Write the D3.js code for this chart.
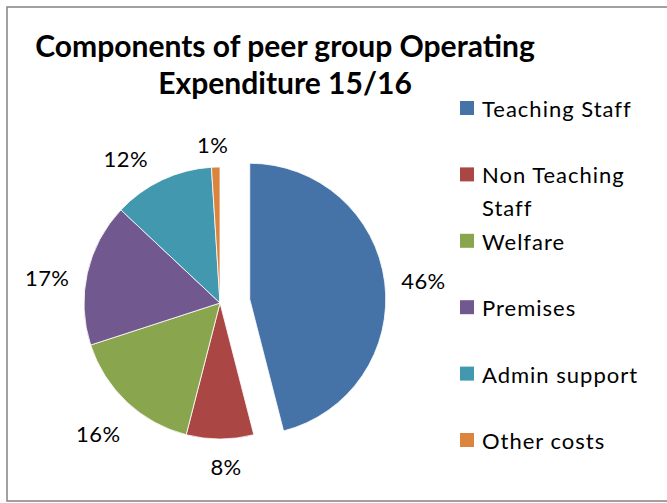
<!DOCTYPE html>
<html><head><meta charset="utf-8">
<script src="https://cdn.jsdelivr.net/npm/d3@7"></script>
<style>body{margin:0;background:#fff}svg{display:block}</style>
</head><body>
<svg id="c" width="667" height="503"></svg>
<script>
const categories = ["Teaching Staff","Non Teaching Staff","Welfare","Premises","Admin support","Other costs"];
const values = [46, 8, 16, 17, 12, 1];
const colors = ["#4572A7","#AA4643","#89A54E","#71588F","#4198AF","#DB843D"];
const titleLines = ["Components of peer group Operating","Expenditure 15/16"];
const exploded = [true,false,false,false,false,false];
// layout-only label nudges (px) mimicking Excel's best-fit placement
const labelNudge = [[3,3],[6,-9],[-4,5],[-5,12],[-21,11],[-2,13]];

const svg = d3.select("#c");
const FONT = "Lato, 'Open Sans', sans-serif";

svg.append("rect").attr("x",7).attr("y",7).attr("width",670).attr("height",494)
  .attr("fill","#fff").attr("stroke","#8a8a8a").attr("stroke-width",1.6);

// Title
const title = svg.append("g");
titleLines.forEach((t,i)=>{
  title.append("text").attr("x",285).attr("y",57+i*37).attr("text-anchor","middle")
    .attr("font-family",FONT).attr("font-weight","bold").attr("font-size",27)
    .attr("fill","#000").text(t);
});
const t0 = title.select("text").node();
const w0 = t0.getComputedTextLength();
const fs = 27*500/w0;
title.selectAll("text").attr("font-size",fs);

// Pie
const cx = 220, cy = 303, r = 136, explode = 30;
const total = d3.sum(values);
const pie = d3.pie().sort(null).value(d=>d)(values);
const arc = d3.arc().innerRadius(0).outerRadius(r);
const g = svg.append("g").attr("transform",`translate(${cx},${cy})`);
pie.forEach((p,i)=>{
  const mid = (p.startAngle+p.endAngle)/2;
  const off = exploded[i]?explode:0;
  const ox = Math.sin(mid)*off, oy = -Math.cos(mid)*off;
  g.append("path").attr("d",arc(p)).attr("transform",`translate(${ox},${oy})`)
    .attr("fill",colors[i]).attr("stroke","#fff").attr("stroke-width",0.8);
  const lr = r+36+off;
  const lx = Math.sin(mid)*lr + labelNudge[i][0];
  const ly = -Math.cos(mid)*lr + labelNudge[i][1];
  g.append("text").attr("x",lx).attr("y",ly).attr("text-anchor","middle")
    .attr("dominant-baseline","central").attr("font-family",FONT).attr("font-size",22)
    .attr("letter-spacing",0.4).attr("fill","#000").text(d3.format(".0%")(values[i]/total));
});

// Legend
const lg = svg.append("g");
categories.forEach((c,i)=>{
  const y = 108 + i*66.4;
  lg.append("rect").attr("x",460).attr("y",y-7).attr("width",14).attr("height",14).attr("fill",colors[i]);
  const txt = lg.append("text").attr("x",482).attr("y",y).attr("dominant-baseline","central")
    .attr("font-family",FONT).attr("font-size",22).attr("fill","#000").attr("letter-spacing",1.0);
  // wrap
  const words = c.split(" ");
  let lines = [], cur = [];
  const tmp = txt.append("tspan");
  words.forEach(w=>{
    const test = cur.concat([w]).join(" ");
    tmp.text(test);
    if (tmp.node().getComputedTextLength() > 176 && cur.length){ lines.push(cur.join(" ")); cur=[w]; }
    else cur.push(w);
  });
  lines.push(cur.join(" "));
  tmp.remove();
  lines.forEach((l,j)=>{
    txt.append("tspan").attr("x",482).attr("dy", j===0?0:33).text(l);
  });
});
</script>
</body></html>
